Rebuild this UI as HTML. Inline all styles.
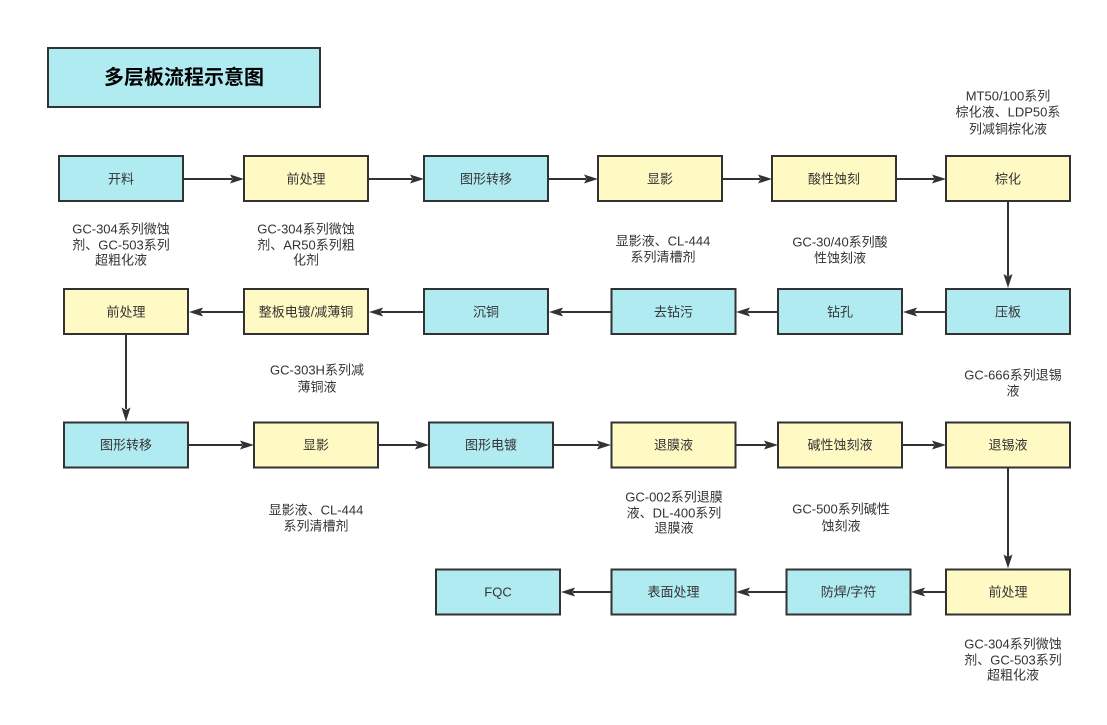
<!DOCTYPE html>
<html>
<head>
<meta charset="utf-8">
<style>
  html,body{margin:0;padding:0;background:#fff;}
  body{width:1107px;height:725px;overflow:hidden;}
  svg{display:block;}
  text{font-family:"Liberation Sans","Noto Sans CJK SC",sans-serif;fill:#333;}
  .lbl{font-size:13px;}
  .ann{font-size:13px;}
</style>
</head>
<body>
<svg width="1107" height="725" viewBox="0 0 1107 725" xmlns="http://www.w3.org/2000/svg">
  <rect x="0" y="0" width="1107" height="725" fill="#fff"/>
  <!-- Title -->
  <rect x="48" y="48" width="272" height="59" fill="#b1ebf2" stroke="#323232" stroke-width="2"/>
  <text x="184" y="78" text-anchor="middle" dominant-baseline="central" style="font-size:20px;font-weight:bold;fill:#000;">多层板流程示意图</text>

  <g stroke="#323232" stroke-width="2">
    <!-- Row 1 -->
    <rect x="59" y="156" width="124" height="45" fill="#b1ebf2"/>
    <rect x="244" y="156" width="124" height="45" fill="#fff9c4"/>
    <rect x="424" y="156" width="124" height="45" fill="#b1ebf2"/>
    <rect x="598" y="156" width="124" height="45" fill="#fff9c4"/>
    <rect x="772" y="156" width="124" height="45" fill="#fff9c4"/>
    <rect x="946" y="156" width="124" height="45" fill="#fff9c4"/>
    <!-- Row 2 -->
    <rect x="64" y="289" width="124" height="45" fill="#fff9c4"/>
    <rect x="244" y="289" width="124" height="45" fill="#fff9c4"/>
    <rect x="424" y="289" width="124" height="45" fill="#b1ebf2"/>
    <rect x="611.5" y="289" width="124" height="45" fill="#b1ebf2"/>
    <rect x="778" y="289" width="124" height="45" fill="#b1ebf2"/>
    <rect x="946" y="289" width="124" height="45" fill="#b1ebf2"/>
    <!-- Row 3 -->
    <rect x="64" y="422.5" width="124" height="45" fill="#b1ebf2"/>
    <rect x="254" y="422.5" width="124" height="45" fill="#fff9c4"/>
    <rect x="429" y="422.5" width="124" height="45" fill="#b1ebf2"/>
    <rect x="611.5" y="422.5" width="124" height="45" fill="#fff9c4"/>
    <rect x="778" y="422.5" width="124" height="45" fill="#fff9c4"/>
    <rect x="946" y="422.5" width="124" height="45" fill="#fff9c4"/>
    <!-- Row 4 -->
    <rect x="436" y="569.5" width="124" height="45" fill="#b1ebf2"/>
    <rect x="611.5" y="569.5" width="124" height="45" fill="#b1ebf2"/>
    <rect x="786.5" y="569.5" width="124" height="45" fill="#b1ebf2"/>
    <rect x="946" y="569.5" width="124" height="45" fill="#fff9c4"/>
  </g>

  <!-- Connectors -->
  <g stroke="#323232" stroke-width="2" fill="none">
    <!-- row1 right -->
    <line x1="184" y1="179" x2="232" y2="179"/>
    <line x1="369" y1="179" x2="412" y2="179"/>
    <line x1="549" y1="179" x2="586" y2="179"/>
    <line x1="723" y1="179" x2="760" y2="179"/>
    <line x1="897" y1="179" x2="934" y2="179"/>
    <!-- down 棕化 -> 压板 -->
    <line x1="1008" y1="202" x2="1008" y2="276"/>
    <!-- row2 left -->
    <line x1="946" y1="312" x2="915" y2="312"/>
    <line x1="778" y1="312" x2="748" y2="312"/>
    <line x1="611" y1="312" x2="561" y2="312"/>
    <line x1="424" y1="312" x2="381" y2="312"/>
    <line x1="244" y1="312" x2="201" y2="312"/>
    <!-- down 前处理 -> 图形转移 -->
    <line x1="126" y1="335" x2="126" y2="409"/>
    <!-- row3 right -->
    <line x1="189" y1="445" x2="242" y2="445"/>
    <line x1="379" y1="445" x2="417" y2="445"/>
    <line x1="554" y1="445" x2="599" y2="445"/>
    <line x1="736" y1="445" x2="766" y2="445"/>
    <line x1="903" y1="445" x2="934" y2="445"/>
    <!-- down 退锡液 -> 前处理 -->
    <line x1="1008" y1="468" x2="1008" y2="557"/>
    <!-- row4 left -->
    <line x1="946" y1="592" x2="923" y2="592"/>
    <line x1="786" y1="592" x2="748" y2="592"/>
    <line x1="611" y1="592" x2="573" y2="592"/>
  </g>
  <g fill="#323232" stroke="none">
    <!-- right arrowheads: tip at x -->
    <polygon points="244,179 230,174.5 232.5,179 230,183.5"/>
    <polygon points="424,179 410,174.5 412.5,179 410,183.5"/>
    <polygon points="598,179 584,174.5 586.5,179 584,183.5"/>
    <polygon points="772,179 758,174.5 760.5,179 758,183.5"/>
    <polygon points="946,179 932,174.5 934.5,179 932,183.5"/>
    <!-- down -->
    <polygon points="1008,288 1003.5,274 1008,276.5 1012.5,274"/>
    <!-- left arrowheads -->
    <polygon points="903,312 917,307.5 914.5,312 917,316.5"/>
    <polygon points="736,312 750,307.5 747.5,312 750,316.5"/>
    <polygon points="549,312 563,307.5 560.5,312 563,316.5"/>
    <polygon points="369,312 383,307.5 380.5,312 383,316.5"/>
    <polygon points="189,312 203,307.5 200.5,312 203,316.5"/>
    <!-- down -->
    <polygon points="126,421.5 121.5,407.5 126,410 130.5,407.5"/>
    <!-- row3 right -->
    <polygon points="254,445 240,440.5 242.5,445 240,449.5"/>
    <polygon points="429,445 415,440.5 417.5,445 415,449.5"/>
    <polygon points="611,445 597,440.5 599.5,445 597,449.5"/>
    <polygon points="778,445 764,440.5 766.5,445 764,449.5"/>
    <polygon points="946,445 932,440.5 934.5,445 932,449.5"/>
    <!-- down -->
    <polygon points="1008,568.5 1003.5,554.5 1008,557 1012.5,554.5"/>
    <!-- row4 left -->
    <polygon points="911,592 925,587.5 922.5,592 925,596.5"/>
    <polygon points="736,592 750,587.5 747.5,592 750,596.5"/>
    <polygon points="561,592 575,587.5 572.5,592 575,596.5"/>
  </g>

  <!-- Box labels -->
  <g class="lbl" text-anchor="middle" dominant-baseline="central">
    <text x="121" y="179">开料</text>
    <text x="306" y="179">前处理</text>
    <text x="486" y="179">图形转移</text>
    <text x="660" y="179">显影</text>
    <text x="834" y="179">酸性蚀刻</text>
    <text x="1008" y="179">棕化</text>

    <text x="126" y="312">前处理</text>
    <text x="306" y="312">整板电镀/减薄铜</text>
    <text x="486" y="312">沉铜</text>
    <text x="673.5" y="312">去钻污</text>
    <text x="840" y="312">钻孔</text>
    <text x="1008" y="312">压板</text>

    <text x="126" y="445">图形转移</text>
    <text x="316" y="445">显影</text>
    <text x="491" y="445">图形电镀</text>
    <text x="673.5" y="445">退膜液</text>
    <text x="840" y="445">碱性蚀刻液</text>
    <text x="1008" y="445">退锡液</text>

    <text x="498" y="592">FQC</text>
    <text x="673.5" y="592">表面处理</text>
    <text x="848.5" y="592">防焊/字符</text>
    <text x="1008" y="592">前处理</text>
  </g>

  <!-- Annotations -->
  <g class="ann" text-anchor="middle" dominant-baseline="central">
    <text x="121" y="229">GC-304系列微蚀</text>
    <text x="121" y="245">剂、GC-503系列</text>
    <text x="121" y="260">超粗化液</text>

    <text x="306" y="229">GC-304系列微蚀</text>
    <text x="306" y="245">剂、AR50系列粗</text>
    <text x="306" y="260">化剂</text>

    <text x="663" y="241">显影液、CL-444</text>
    <text x="663" y="257">系列清槽剂</text>

    <text x="840" y="242">GC-30/40系列酸</text>
    <text x="840" y="258">性蚀刻液</text>

    <text x="1008" y="96">MT50/100系列</text>
    <text x="1008" y="112">棕化液、LDP50系</text>
    <text x="1008" y="129">列减铜棕化液</text>

    <text x="317" y="370">GC-303H系列减</text>
    <text x="317" y="387">薄铜液</text>

    <text x="1013" y="375">GC-666系列退锡</text>
    <text x="1013" y="391">液</text>

    <text x="316" y="510">显影液、CL-444</text>
    <text x="316" y="526">系列清槽剂</text>

    <text x="674" y="497">GC-002系列退膜</text>
    <text x="674" y="513">液、DL-400系列</text>
    <text x="674" y="528">退膜液</text>

    <text x="841" y="509">GC-500系列碱性</text>
    <text x="841" y="526">蚀刻液</text>

    <text x="1013" y="644">GC-304系列微蚀</text>
    <text x="1013" y="660">剂、GC-503系列</text>
    <text x="1013" y="675">超粗化液</text>
  </g>
</svg>
</body>
</html>
